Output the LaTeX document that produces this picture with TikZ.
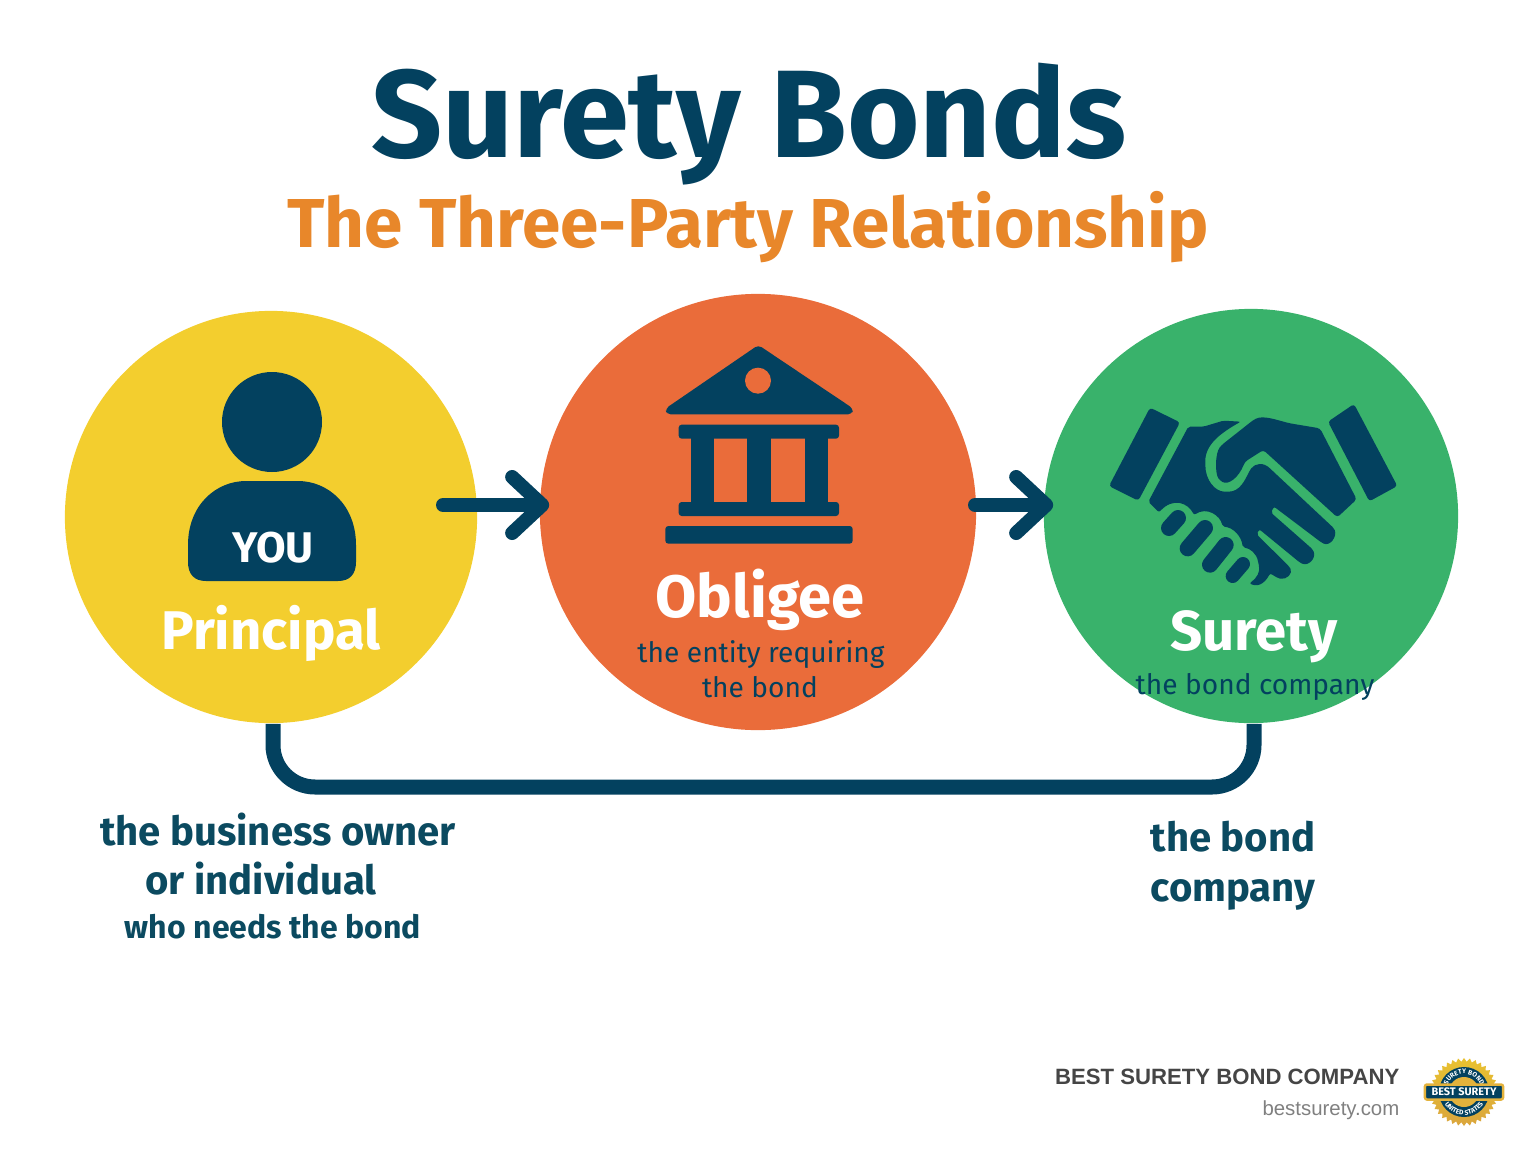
\documentclass[tikz,border=0pt]{standalone}
\usepackage{fontspec}
\setmainfont{Fira Sans}
\newfontfamily\footfont{Liberation Sans}
\usetikzlibrary{arrows.meta}
\usetikzlibrary{decorations.text}
\usetikzlibrary{shapes.geometric}
\definecolor{navy}{HTML}{03415F}
\definecolor{teal}{HTML}{0B4A60}
\definecolor{sunyellow}{HTML}{F3CE2E}
\definecolor{burnt}{HTML}{EA6C3A}
\definecolor{leaf}{HTML}{39B26B}
\definecolor{amber}{HTML}{E8872A}
\definecolor{badgegold}{HTML}{E3B23C}
\tikzset{party/.style = {circle, inner sep=0pt}}
\tikzset{flowline/.style = {draw=navy, line width=0.14cm, line cap=round, shorten >=-0.1cm,
                            -{Straight Barb[round,length=0.3cm,width=0.56cm]}}}
\tikzset{bondline/.style = {draw=navy, line width=0.15cm, rounded corners=0.42cm}}
\tikzset{partyname/.style = {text=white, anchor=base, font=\bfseries\fontsize{16}{19}\selectfont}}
\tikzset{partynote/.style = {text=navy, anchor=base, font=\fontsize{8}{10}\selectfont}}
\tikzset{sidenote/.style = {text=teal, anchor=base, font=\bfseries\fontsize{11.4}{13}\selectfont}}
\begin{document}
\begin{tikzpicture}[x=0.01cm, y=-0.01cm]
    \useasboundingbox (0, 0) rectangle (1536, 1154);

    \node [text=navy, anchor=base, font=\bfseries\fontsize{35.4}{40}\selectfont] (title) at (749, 157) {Surety Bonds};
    \node [text=amber, anchor=base, font=\bfseries\fontsize{19.7}{24}\selectfont] (subtitle) at (748, 247) {The Three-Party Relationship};

    \node [party, fill=sunyellow, minimum size=4.12cm] (principal) at (271, 517) {};
    \node [party, fill=burnt, minimum size=4.36cm] (obligee) at (758, 512) {};
    \node [party, fill=leaf, minimum size=4.14cm] (surety) at (1251, 516) {};

    % person
    \fill [navy] (272, 422) circle (50);
    \fill [navy] (206, 581) -- (338, 581) .. controls (350, 581) and (356, 574) .. (356, 562)
      -- (356, 545) .. controls (356, 505) and (328, 481) .. (298, 481)
      -- (246, 481) .. controls (216, 481) and (188, 505) .. (188, 545)
      -- (188, 562) .. controls (188, 574) and (194, 581) .. (206, 581) -- cycle;
    \node [text=white, anchor=base, font=\bfseries\fontsize{12.2}{14}\selectfont] (you) at (273, 562) {YOU};

    % bank
    \begin{scope}[shift={(640, 330)}, scale=1/3]
      \fill [navy, rounded corners=0.04cm] (355, 45) -- (640, 236) -- (636, 253) -- (80, 253) -- (76, 236) -- cycle;
      \fill [burnt] (354, 152) circle (39);
      \fill [navy, rounded corners=0.03cm] (116, 284) rectangle (597, 326);
      \fill [navy] (152, 320) rectangle (222, 522);
      \fill [navy] (320, 320) rectangle (394, 522);
      \fill [navy] (494, 320) rectangle (564, 522);
      \fill [navy, rounded corners=0.03cm] (116, 516) rectangle (597, 558);
      \fill [navy, rounded corners=0.03cm] (76, 588) rectangle (638, 641);
    \end{scope}

    % handshake
    \begin{scope}[shift={(1090, 390)}, scale=1/3]
      \fill [navy, rounded corners=0.03cm] (180, 53) -- (270, 97) -- (145, 332) -- (57, 288) -- cycle;
      \fill [navy, rounded corners=0.03cm] (792, 42) -- (922, 288) -- (838, 334) -- (714, 95) -- cycle;
      \fill [navy, rounded corners=0.02cm] (295, 110) -- (340, 110) -- (400, 92) -- (452, 95)
        .. controls (400, 125) and (345, 160) .. (346, 220)
        .. controls (346, 270) and (375, 305) .. (410, 305)
        .. controls (450, 305) and (465, 270) .. (480, 240)
        .. controls (495, 220) and (520, 215) .. (545, 240)
        -- (732, 415) .. controls (742, 440) and (720, 470) .. (695, 458)
        -- (552, 350) -- (543, 368) -- (668, 478) .. controls (680, 505) and (655, 530) .. (630, 518)
        -- (508, 418) -- (500, 433) -- (598, 530) .. controls (610, 550) and (590, 570) .. (565, 565)
        -- (540, 550) .. controls (530, 570) and (510, 595) .. (478, 580)
        .. controls (500, 565) and (512, 545) .. (505, 520)
        .. controls (500, 490) and (480, 475) .. (458, 472)
        .. controls (455, 440) and (430, 412) .. (398, 410)
        .. controls (390, 375) and (350, 350) .. (312, 375)
        .. controls (295, 340) and (250, 320) .. (207, 367)
        -- (175, 335) -- cycle;
      \fill [navy, rounded corners=0.03cm] (490, 90) .. controls (520, 75) and (560, 90) .. (600, 100)
        -- (690, 115) -- (800, 328) -- (742, 382) -- (520, 180) -- (465, 215)
        .. controls (445, 265) and (415, 285) .. (390, 272)
        .. controls (375, 250) and (375, 190) .. (395, 165) -- cycle;
      \draw [navy, line width=0.16cm, line cap=round] (237, 414) -- (264, 384);
      \draw [navy, line width=0.16cm, line cap=round] (293, 475) -- (345, 414);
      \draw [navy, line width=0.16cm, line cap=round] (360, 524) -- (407, 465);
      \draw [navy, line width=0.14cm, line cap=round] (428, 558) -- (459, 522);
    \end{scope}

    \node [partyname, font=\bfseries\fontsize{15.5}{19}\selectfont] (principalname) at (271, 649) {Principal};
    \node [partyname, font=\bfseries\fontsize{17}{20}\selectfont] (obligeename) at (760, 617) {Obligee};
    \node [partyname] (suretyname) at (1254, 650) {Surety};
    \node [partynote] (obligeeline) at (761, 662) {the entity requiring};
    \node [partynote] (obligeelinetwo) at (760, 697) {the bond};
    \node [partynote] (suretynote) at (1255, 694) {the bond company};

    \coordinate (starta) at (443, 505);
    \coordinate (startb) at (975, 505);
    \draw [flowline] (starta) -- (starta -| obligee.west);
    \draw [flowline] (startb) -- (startb -| surety.west);

    \coordinate (bondmid) at (760, 787);
    \draw [bondline] ([xshift=0.02cm]principal.south) |- (bondmid) -| ([xshift=0.03cm]surety.south);

    \node [sidenote] (ownerline) at (278, 845) {the business owner};
    \node [sidenote] (ownerlinetwo) at (261, 894) {or individual};
    \node [sidenote, font=\bfseries\fontsize{9.1}{11}\selectfont] (ownerlinethree) at (273, 938) {who needs the bond};
    \node [sidenote] (bondline) at (1233, 851) {the bond};
    \node [sidenote] (bondlinetwo) at (1233, 901) {company};

    \node [anchor=east, inner sep=0pt, text=black!73, font=\footfont\bfseries\fontsize{6.3}{8}\selectfont] (brand) at (1400, 1077) {BEST SURETY BOND COMPANY};
    \node [anchor=east, inner sep=0pt, text=black!50, font=\footfont\fontsize{5.8}{7}\selectfont] (site) at (1400, 1110) {bestsurety.com};

    % badge
    \node [star, star points=36, star point ratio=1.12, inner sep=0pt, minimum size=0.68cm,
           top color=badgegold!80!yellow, bottom color=badgegold!75!brown] (badge) at (1464, 1092) {};
    \fill [navy] (1464, 1092) circle (25);
    \fill [badgegold] (1464, 1092) circle (15);
    \path [postaction={decorate, decoration={text along path, text align=center,
           text={|\bfseries\fontsize{1.9}{2}\selectfont\color{white}|SURETY BOND}}}]
      (1446, 1092) arc [start angle=180, end angle=360, radius=18];
    \path [postaction={decorate, decoration={text along path, text align=center,
           text={|\bfseries\fontsize{1.9}{2}\selectfont\color{white}|UNITED STATES}}}]
      (1441, 1092) arc [start angle=180, end angle=0, radius=23];
    \node [fill=navy, draw=badgegold, line width=0.025cm, rounded corners=0.02cm, minimum width=0.78cm, minimum height=0.15cm,
           inner sep=0pt, text=white, font=\bfseries\fontsize{3.1}{4}\selectfont] (badgeband) at (1464, 1092) {BEST SURETY};
\end{tikzpicture}
\end{document}
